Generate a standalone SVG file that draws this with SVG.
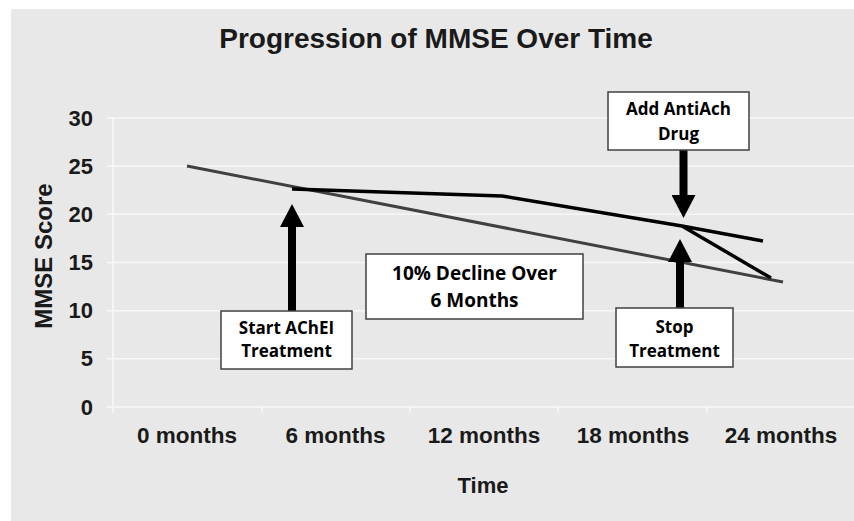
<svg xmlns="http://www.w3.org/2000/svg" width="854" height="521" viewBox="0 0 854 521">
<style>
.ax{font-family:"Liberation Sans",Arial,sans-serif;font-weight:bold;fill:#1a1a1a}
.grid{stroke:#f7f7f7;stroke-width:1.6;fill:none}
.box{fill:#ffffff;stroke:#404040;stroke-width:1.5}
.bt{font-family:"Open Sans","Liberation Sans",sans-serif;font-weight:bold;fill:#000;text-anchor:middle}
.arrow{stroke:#000;stroke-width:8;fill:none;marker-end:url(#ah)}
</style>
<defs>
<marker id="ah" markerUnits="userSpaceOnUse" viewBox="0 0 23 24" markerWidth="23" markerHeight="24" refX="0" refY="12" orient="auto">
<path d="M0,0 L23,12 L0,24 Z" fill="#000"/>
</marker>
</defs>
<rect x="0" y="0" width="854" height="521" fill="#ffffff"/>
<rect x="11" y="9" width="843" height="512" fill="#e8e8e8"/>
<text class="ax" x="436" y="48" font-size="28" text-anchor="middle">Progression of MMSE Over Time</text>
<g id="gridlines">
<path class="grid" d="M107,118.0H854 M107,166.2H854 M107,214.3H854 M107,262.5H854 M107,310.7H854 M107,358.8H854 M107,407H854 M113,118V413 M262,407V413 M410,407V413 M558,407V413 M707,407V413"/>
</g>
<g id="y-labels" class="ax" font-size="22" text-anchor="end">
<text x="93" y="125.5">30</text>
<text x="93" y="173.7">25</text>
<text x="93" y="221.8">20</text>
<text x="93" y="270">15</text>
<text x="93" y="318.2">10</text>
<text x="93" y="366.3">5</text>
<text x="93" y="414.5">0</text>
</g>
<text class="ax" font-size="24" text-anchor="middle" transform="translate(52,256) rotate(-90)">MMSE Score</text>
<g id="x-labels" class="ax" font-size="22.5" text-anchor="middle">
<text x="187" y="443">0 months</text>
<text x="335.5" y="443">6 months</text>
<text x="484" y="443">12 months</text>
<text x="633" y="443">18 months</text>
<text x="781" y="443">24 months</text>
</g>
<text class="ax" x="483" y="493" font-size="22" text-anchor="middle">Time</text>
<g id="series">
<path d="M187,166 L783,282" stroke="#404040" stroke-width="3" fill="none"/>
<path d="M292,189 L502,196 L682,226 L763,241 M682,226 L771,278" stroke="#000" stroke-width="3.5" fill="none" stroke-linejoin="round"/>
</g>
<g id="connectors">
<line class="arrow" x1="292" y1="311" x2="292" y2="227"/>
<line class="arrow" x1="683.5" y1="150" x2="683.5" y2="195"/>
<line class="arrow" x1="680" y1="308" x2="680" y2="262"/>
</g>
<g id="start-achei">
<rect class="box" x="221" y="311" width="131" height="58"/>
<text class="bt" x="286.5" y="334" font-size="17">Start AChEI</text>
<text class="bt" x="286.5" y="357" font-size="17">Treatment</text>
</g>
<g id="decline">
<rect class="box" x="366" y="254" width="217" height="65"/>
<text class="bt" x="474.5" y="280" font-size="19">10% Decline Over</text>
<text class="bt" x="474.5" y="306.5" font-size="19">6 Months</text>
</g>
<g id="add-antiach">
<rect class="box" x="608" y="92" width="141" height="58"/>
<text class="bt" x="678.5" y="115" font-size="17">Add AntiAch</text>
<text class="bt" x="678.5" y="140" font-size="17">Drug</text>
</g>
<g id="stop-treatment">
<rect class="box" x="616" y="308" width="117" height="59"/>
<text class="bt" x="674.5" y="333" font-size="17">Stop</text>
<text class="bt" x="674.5" y="357" font-size="17">Treatment</text>
</g>
</svg>
